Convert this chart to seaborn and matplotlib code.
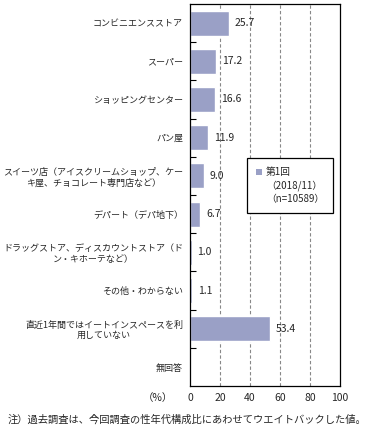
import numpy as np
import pandas as pd
import matplotlib
matplotlib.use("Agg")
import matplotlib.pyplot as plt
import seaborn as sns
from matplotlib.patches import Patch
from matplotlib.lines import Line2D

categories = [
    "コンビニエンスストア",
    "スーパー",
    "ショッピングセンター",
    "パン屋",
    "スイーツ店（アイスクリームショップ、ケー\nキ屋、チョコレート専門店など）",
    "デパート（デパ地下）",
    "ドラッグストア、ディスカウントストア（ド\nン・キホーテなど）",
    "その他・わからない",
    "直近1年間ではイートインスペースを利\n用していない",
    "無回答",
]
values = [25.7, 17.2, 16.6, 11.9, 9.0, 6.7, 1.0, 1.1, 53.4, np.nan]
value_labels = ["25.7", "17.2", "16.6", "11.9", "9.0", "6.7", "1.0", "1.1", "53.4", ""]
series_name = "第1回"
legend_extra = ["（2018/11）", "（n=10589）"]
xticks = [0, 20, 40, 60, 80, 100]

sns.set_theme(style="white")
plt.rcParams['font.family'] = ['Noto Sans CJK JP', 'DejaVu Sans']

bar_color = "#9aa0c6"
df = pd.DataFrame({"cat": categories, "val": values})

fig = plt.figure(figsize=(3.68, 4.33), dpi=100)
ax = fig.add_axes([190/368, 1-386/433, 150/368, 382/433])
sns.barplot(data=df, x="val", y="cat", orient="h", color=bar_color,
            width=0.65, ax=ax, saturation=1)

ax.set_xlim(0, 100)
ax.set_ylim(len(categories) - 0.5, -0.5)
ax.set_xlabel("")
ax.set_ylabel("")
ax.set_xticks(xticks)
ax.set_xticklabels([str(t) for t in xticks], fontsize=7.5)
for x in xticks[1:-1]:
    ax.axvline(x, color="#888888", linestyle=(0, (3, 2)), linewidth=0.8, zorder=0)

ax.tick_params(axis="x", length=0, pad=5)
ax.tick_params(axis="y", which="major", length=0, pad=5, labelsize=6.5)
ax.set_yticks(np.arange(0.5, len(categories) - 0.5, 1), minor=True)
ax.tick_params(axis="y", which="minor", direction="in", length=4, width=0.8, color="black", left=True)
for lab in ax.get_yticklabels():
    lab.set_multialignment("center")

for s in ax.spines.values():
    s.set_color("black")
    s.set_linewidth(0.9)

for i, (v, t) in enumerate(zip(values, value_labels)):
    if t:
        ax.text(v + 4, i, t, va="center", ha="left", fontsize=7.5)

handles = [Patch(facecolor=bar_color, edgecolor="none"),
           Line2D([], [], color="none"), Line2D([], [], color="none")]
leg = ax.legend(handles, [series_name] + legend_extra, loc="upper left",
                bbox_to_anchor=(0.38, 0.597), borderaxespad=0, fontsize=7.0,
                frameon=True, fancybox=False, edgecolor="black", handlelength=0.6,
                handleheight=0.6, handletextpad=0.4, borderpad=0.95,
                labelspacing=0.3)
leg.get_frame().set_linewidth(0.9)
leg.get_frame().set_alpha(1)

fig.text(158/368, 1-398/433, "（%）", ha="center", va="center", fontsize=7.5)
fig.text(187/368, 1-420/433, "注）過去調査は、今回調査の性年代構成比にあわせてウエイトバックした値。",
         ha="center", va="center", fontsize=7.4)

fig.savefig("out.png", dpi=100)
